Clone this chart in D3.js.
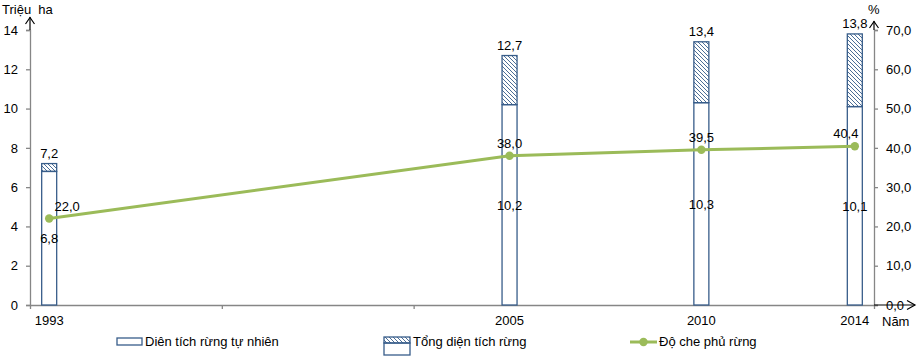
<!DOCTYPE html>
<html lang="vi">
<head>
<meta charset="utf-8">
<title>Rừng Việt Nam</title>
<script src="https://d3js.org/d3.v7.min.js"></script>
<style>
  body { margin: 0; background: #fff; }
  text { font-family: "Liberation Sans", Arial, sans-serif; font-size: 13px; fill: #000; }
</style>
</head>
<body>
<script>
// data
var years = [1993, 2005, 2010, 2014];
var natural = [6.8, 10.2, 10.3, 10.1];   // Diên tích rừng tự nhiên (triệu ha)
var total = [7.2, 12.7, 13.4, 13.8];     // Tổng diện tích rừng (triệu ha)
var cover = [22.0, 38.0, 39.5, 40.4];    // Độ che phủ rừng (%)
var leftTicks = [0, 2, 4, 6, 8, 10, 12, 14];
var rightTicks = [0, 10, 20, 30, 40, 50, 60, 70];
var xMinorTicks = [1997.5, 2002.5];

var w = 917, h = 360;
var fs = "13px";
var fmt = function(v){ return d3.format(".1f")(v).replace(".", ","); };

var axisColor = "#868686";
var barStroke = "#385D8A";
var lineColor = "#9BBB59";

var x = d3.scaleLinear().domain([1992.5, 2014.5]).range([30, 874]);
var yL = d3.scaleLinear().domain([0, 14]).range([305, 30]);
var yR = d3.scaleLinear().domain([0, 70]).range([305, 30]);
var barW = 15;

var svg = d3.select("body").append("svg")
    .attr("width", w).attr("height", h);

// hatch pattern
var defs = svg.append("defs");
defs.append("pattern")
    .attr("id", "hatch")
    .attr("patternUnits", "userSpaceOnUse")
    .attr("width", 4).attr("height", 4)
  .append("path")
    .attr("d", "M0,0 L4,4 M-1,3 L1,5 M3,-1 L5,1")
    .attr("stroke", barStroke).attr("stroke-width", 0.9);

// left axis
var gL = svg.append("g").attr("transform", "translate(30,0)");
gL.call(d3.axisLeft(yL).tickValues(leftTicks).tickSize(4).tickPadding(8).tickFormat(d3.format("d")));
// right axis
var gR = svg.append("g").attr("transform", "translate(874,0)");
gR.call(d3.axisRight(yR).tickValues(rightTicks).tickSize(4).tickPadding(8).tickFormat(fmt));
// bottom axis
var gB = svg.append("g").attr("transform", "translate(0,305)");
gB.call(d3.axisBottom(x).tickValues(xMinorTicks).tickSize(4).tickFormat(""));

[gL, gR, gB].forEach(function(g){
  g.select(".domain").attr("stroke", axisColor).attr("stroke-width", 1.3);
  g.selectAll(".tick line").attr("stroke", axisColor).attr("stroke-width", 1.3);
  g.selectAll(".tick text").style("font-size", fs).attr("fill", "#000");
});

// extend axes with arrows
function arrowLine(x1, y1, x2, y2) {
  svg.append("line").attr("x1", x1).attr("y1", y1).attr("x2", x2).attr("y2", y2)
    .attr("stroke", "#000").attr("stroke-width", 1.2);
}
arrowLine(30, 30, 30, 17);
svg.append("path").attr("d", "M25.5,24 L30,17.5 L34.5,24").attr("fill", "none").attr("stroke", "#000").attr("stroke-width", 1.2);
arrowLine(874, 30, 874, 21);
svg.append("path").attr("d", "M869.5,28 L874,21.5 L878.5,28").attr("fill", "none").attr("stroke", "#000").attr("stroke-width", 1.2);
arrowLine(874, 305, 915, 305);
svg.append("path").attr("d", "M907,300.5 L915,305 L907,309.5").attr("fill", "none").attr("stroke", "#000").attr("stroke-width", 1.2);

// axis titles
svg.append("text").attr("x", 2).attr("y", 14).style("font-size", fs).style("white-space", "pre").text("Triệu  ha");
svg.append("text").attr("x", 868).attr("y", 14).style("font-size", fs).text("%");
svg.append("text").attr("x", 882).attr("y", 326).style("font-size", fs).text("Năm");

// year labels
svg.selectAll(".year").data(years).enter().append("text")
    .attr("class", "year")
    .attr("x", function(d){ return x(d); })
    .attr("y", 325)
    .attr("text-anchor", "middle")
    .style("font-size", fs)
    .text(function(d){ return d; });

// bars: natural (bottom)
svg.selectAll(".nat").data(years).enter().append("rect")
    .attr("class", "nat")
    .attr("x", function(d){ return x(d) - barW / 2; })
    .attr("y", function(d, i){ return yL(natural[i]); })
    .attr("width", barW)
    .attr("height", function(d, i){ return yL(0) - yL(natural[i]); })
    .attr("fill", "#fff").attr("stroke", barStroke).attr("stroke-width", 1.3);

// bars: remaining part of total (hatched)
svg.selectAll(".tot").data(years).enter().append("rect")
    .attr("class", "tot")
    .attr("x", function(d){ return x(d) - barW / 2; })
    .attr("y", function(d, i){ return yL(total[i]); })
    .attr("width", barW)
    .attr("height", function(d, i){ return yL(natural[i]) - yL(total[i]); })
    .attr("fill", "url(#hatch)").attr("stroke", barStroke).attr("stroke-width", 1.3);

// bar labels
svg.selectAll(".totLab").data(years).enter().append("text")
    .attr("x", function(d){ return x(d); })
    .attr("y", function(d, i){ return yL(total[i]) - 6; })
    .attr("text-anchor", "middle")
    .style("font-size", fs)
    .text(function(d, i){ return fmt(total[i]); });

svg.selectAll(".natLab").data(years).enter().append("text")
    .attr("x", function(d){ return x(d); })
    .attr("y", function(d, i){ return yL(natural[i] / 2) + 5; })
    .attr("text-anchor", "middle")
    .style("font-size", fs)
    .text(function(d, i){ return fmt(natural[i]); });

// cover line
var line = d3.line()
    .x(function(d, i){ return x(years[i]); })
    .y(function(d){ return yR(d); });

svg.append("path").datum(cover)
    .attr("d", line)
    .attr("fill", "none").attr("stroke", lineColor).attr("stroke-width", 3);

svg.selectAll(".pt").data(cover).enter().append("circle")
    .attr("cx", function(d, i){ return x(years[i]); })
    .attr("cy", function(d){ return yR(d); })
    .attr("r", 4.2)
    .attr("fill", lineColor);

var labDx = [18, 0, 0, -9];
svg.selectAll(".covLab").data(cover).enter().append("text")
    .attr("x", function(d, i){ return x(years[i]) + labDx[i]; })
    .attr("y", function(d){ return yR(d) - 8; })
    .attr("text-anchor", "middle")
    .style("font-size", fs)
    .text(function(d){ return fmt(d); });

// legend
var lg = svg.append("g");
lg.append("rect").attr("x", 117).attr("y", 338).attr("width", 25).attr("height", 7)
    .attr("fill", "#fff").attr("stroke", barStroke).attr("stroke-width", 1.3);
lg.append("text").attr("x", 145).attr("y", 346).style("font-size", fs).text("Diên tích rừng tự nhiên");

lg.append("rect").attr("x", 384).attr("y", 343).attr("width", 26).attr("height", 12)
    .attr("fill", "#fff").attr("stroke", barStroke).attr("stroke-width", 1.3);
lg.append("rect").attr("x", 384).attr("y", 337).attr("width", 26).attr("height", 6)
    .attr("fill", "url(#hatch)").attr("stroke", barStroke).attr("stroke-width", 1.3);
lg.append("text").attr("x", 413).attr("y", 346).style("font-size", fs).text("Tổng diện tích rừng");

lg.append("line").attr("x1", 630).attr("x2", 657).attr("y1", 342).attr("y2", 342)
    .attr("stroke", lineColor).attr("stroke-width", 3);
lg.append("circle").attr("cx", 643.5).attr("cy", 342).attr("r", 4.2).attr("fill", lineColor);
lg.append("text").attr("x", 659).attr("y", 346).style("font-size", fs).text("Độ che phủ rừng");
</script>
</body>
</html>
